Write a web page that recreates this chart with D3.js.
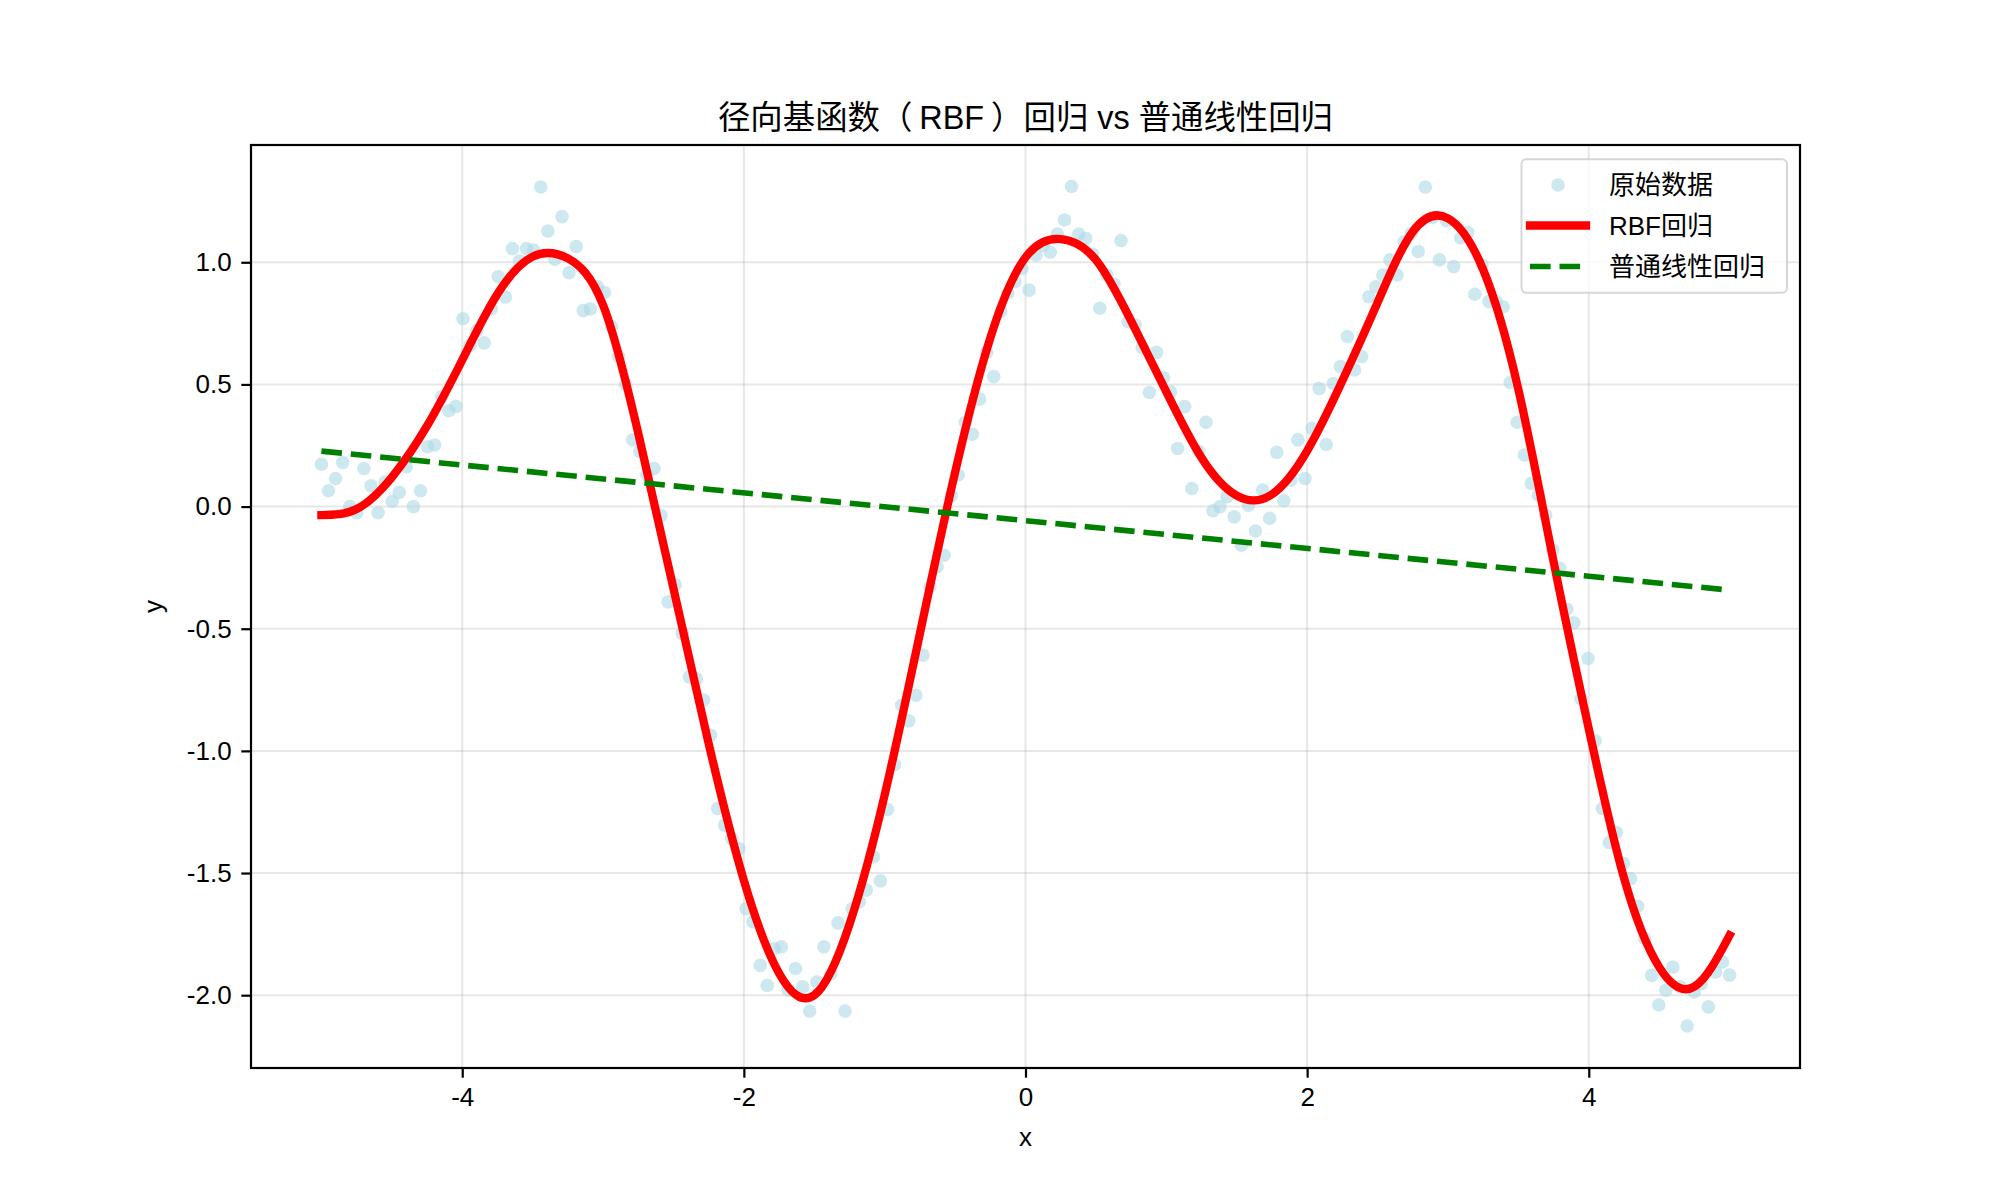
<!DOCTYPE html>
<html><head><meta charset="utf-8">
<script src="https://cdn.jsdelivr.net/npm/d3@7"></script>
<style>
html,body{margin:0;padding:0;background:#fff;}
svg{display:block;}
text{font-family:"Liberation Sans","Noto Sans CJK SC",sans-serif;fill:#000;}
</style>
</head><body><div id="chart"></div>
<script>
// ---------- data ----------
const titleParts = ["径向基函数", "（", "RBF", "）", "回归 vs 普通线性回归"];
const xLabelText = "x";
const yLabelText = "y";
const legendLabels = ["原始数据", "RBF回归", "普通线性回归"];
const xTicks = [-4, -2, 0, 2, 4];
const yTicks = [-2.0, -1.5, -1.0, -0.5, 0.0, 0.5, 1.0];

// sample grid of the raw data: 200 evenly spaced x from -5 to 5
const sampleCount = 200, sampleStart = -5, sampleEnd = 5;
const scatterY = [
 0.173, 0.065, 0.115, 0.181, 0.0, -0.025, 0.156, 0.085, -0.025, 0.10,
 0.022, 0.058, 0.163, 0.0, 0.065, 0.245, 0.252, 0.45, 0.392, 0.41,
 0.769, 0.66, 0.72, 0.67, 0.81, 0.941, 0.858, 1.056, 1.005, 1.056,
 1.05, 1.308, 1.128, 1.013, 1.187, 0.957, 1.064, 0.802, 0.809, 0.90,
 0.876, 0.737, 0.614, 0.50, 0.273, 0.225, 0.13, 0.156, -0.037, -0.39,
 -0.32, -0.519, -0.697, -0.706, -0.792, -0.936, -1.236, -1.304, -1.359, -1.40,
 -1.646, -1.70, -1.878, -1.96, -1.81, -1.802, -1.98, -1.891, -1.966, -2.065,
 -1.946, -1.802, -1.912, -1.704, -2.065, -1.646, -1.618, -1.57, -1.434, -1.532,
 -1.24, -1.056, -0.813, -0.877, -0.772, -0.608, -0.328, -0.246, -0.199, 0.044,
 0.129, 0.345, 0.296, 0.44, 0.63, 0.532, 0.798, 0.873, 0.921, 0.975,
 0.886, 1.03, 1.07, 1.041, 1.115, 1.173, 1.31, 1.115, 1.098, 1.033,
 0.812, 0.948, 0.91, 1.089, 0.757, 0.743, 0.65, 0.467, 0.631, 0.527,
 0.47, 0.238, 0.409, 0.074, 0.225, 0.345, -0.017, 0.0, 0.04, -0.042,
 -0.158, 0.006, -0.1, 0.068, -0.048, 0.222, 0.024, 0.108, 0.273, 0.115,
 0.32, 0.484, 0.254, 0.504, 0.573, 0.696, 0.559, 0.614, 0.859, 0.90,
 0.948, 1.01, 0.948, 1.084, 1.119, 1.044, 1.308, 1.183, 1.01, 1.17,
 0.982, 1.10, 1.123, 0.869, 0.99, 0.839, 0.84, 0.818, 0.508, 0.345,
 0.211, 0.095, 0.047, -0.035, -0.178, -0.253, -0.42, -0.476, -0.786, -0.622,
 -0.959, -1.236, -1.375, -1.334, -1.46, -1.523, -1.636, -1.768, -1.919, -2.04,
 -1.98, -1.885, -1.966, -2.126, -1.987, -1.953, -2.048, -1.905, -1.864, -1.918
];

const rbfX = [-5, -4.75, -4.5, -4.25, -4, -3.75, -3.5, -3.25, -3, -2.75, -2.5, -2.25, -2,
  -1.75, -1.5, -1.25, -1, -0.75, -0.5, -0.25, 0, 0.25, 0.5, 0.75, 1, 1.25, 1.5, 1.75,
  2, 2.25, 2.5, 2.75, 3, 3.25, 3.5, 3.75, 4, 4.25, 4.5, 4.75, 5];
const rbfY = [-0.035, -0.01, 0.12, 0.33, 0.6, 0.87, 1.023, 1.016, 0.825, 0.3, -0.335, -0.97, -1.53,
  -1.91, -2.0, -1.71, -1.18, -0.52, 0.14, 0.69, 1.02, 1.095, 1.01, 0.76, 0.47, 0.2, 0.045, 0.05,
  0.228, 0.515, 0.835, 1.125, 1.18, 0.97, 0.48, -0.225, -0.91, -1.52, -1.885, -1.965, -1.755];

const linearX = [-5, 5];
const linearY = [0.227, -0.342];

// ---------- layout ----------
const W = 1998, H = 1198;
const L = 251, R = 1800, T = 145, B = 1068;
const fs = 26;

const svg = d3.select("#chart").append("svg").attr("width", W).attr("height", H);
svg.append("rect").attr("width", W).attr("height", H).attr("fill", "#fff");

const x = d3.scaleLinear().domain([-5.5, 5.5]).range([L, R]);
const y = d3.scaleLinear().domain([-2.298, 1.480]).range([B, T]);

const scatterX = d3.range(sampleCount).map(i => sampleStart + i * (sampleEnd - sampleStart) / (sampleCount - 1));
const points = scatterX.map((v, i) => ({x: v, y: scatterY[i]}));
const rbf = rbfX.map((v, i) => ({x: v, y: rbfY[i]}));
const lin = linearX.map((v, i) => ({x: v, y: linearY[i]}));

// grid
const grid = svg.append("g").attr("stroke", "#b0b0b0").attr("stroke-opacity", 0.3).attr("stroke-width", 2);
grid.selectAll("line.v").data(xTicks).join("line")
  .attr("x1", d => x(d)).attr("x2", d => x(d)).attr("y1", T).attr("y2", B);
grid.selectAll("line.h").data(yTicks).join("line")
  .attr("y1", d => y(d)).attr("y2", d => y(d)).attr("x1", L).attr("x2", R);

// scatter
svg.append("g").selectAll("circle").data(points).join("circle")
  .attr("cx", d => x(d.x)).attr("cy", d => y(d.y)).attr("r", 6.8)
  .attr("fill", "#add8e6").attr("fill-opacity", 0.6);

// rbf line
svg.append("path").datum(rbf)
  .attr("d", d3.line().x(d => x(d.x)).y(d => y(d.y)).curve(d3.curveNatural))
  .attr("fill", "none").attr("stroke", "#ff0000").attr("stroke-width", 8.3)
  .attr("stroke-linejoin", "round").attr("stroke-linecap", "square");

// linear line
svg.append("path").datum(lin)
  .attr("d", d3.line().x(d => x(d.x)).y(d => y(d.y)))
  .attr("fill", "none").attr("stroke", "#008000").attr("stroke-width", 5.6)
  .attr("stroke-dasharray", "20.6 8.9");

// spines
svg.append("rect").attr("x", L).attr("y", T).attr("width", R - L).attr("height", B - T)
  .attr("fill", "none").attr("stroke", "#000").attr("stroke-width", 2.2);

// axes
const xAxis = d3.axisBottom(x).tickValues(xTicks).tickFormat(d => String(d)).tickSize(9.7).tickPadding(9.7);
const gx = svg.append("g").attr("transform", `translate(0,${B})`).call(xAxis);
const yAxis = d3.axisLeft(y).tickValues(yTicks).tickFormat(d => d.toFixed(1)).tickSize(9.7).tickPadding(9.7);
const gy = svg.append("g").attr("transform", `translate(${L},0)`).call(yAxis);
[gx, gy].forEach(g => {
  g.select(".domain").remove();
  g.selectAll(".tick line").attr("stroke", "#000").attr("stroke-width", 2.2);
  g.selectAll(".tick text").attr("font-size", fs).attr("font-family", "Liberation Sans, Noto Sans CJK SC, sans-serif").attr("fill", "#000");
});

// title (extra space inside the full-width parentheses, as in the original rendering)
const title = svg.append("text").attr("x", (L + R) / 2).attr("y", 128.5).attr("text-anchor", "middle")
  .attr("font-size", 32.4);
const titleDx = [0, 0, 7, 7, 0];
titleParts.forEach((p, i) => title.append("tspan").attr("dx", titleDx[i]).text(p));

svg.append("text").attr("x", (L + R) / 2).attr("y", 1146).attr("text-anchor", "middle")
  .attr("font-size", fs).text(xLabelText);
svg.append("text").attr("transform", `translate(162,${(T + B) / 2}) rotate(-90)`).attr("text-anchor", "middle")
  .attr("font-size", fs).text(yLabelText);

// legend
const lg = svg.append("g");
lg.append("rect").attr("x", 1521.5).attr("y", 159.3).attr("width", 265.5).attr("height", 133.4)
  .attr("rx", 5).attr("fill", "#fff").attr("fill-opacity", 0.8)
  .attr("stroke", "#cccccc").attr("stroke-opacity", 0.8).attr("stroke-width", 2);
const rowY = [185, 225.5, 266.5];
lg.append("circle").attr("cx", 1558).attr("cy", rowY[0]).attr("r", 6.8)
  .attr("fill", "#add8e6").attr("fill-opacity", 0.6);
lg.append("line").attr("x1", 1530).attr("x2", 1586).attr("y1", rowY[1]).attr("y2", rowY[1])
  .attr("stroke", "#ff0000").attr("stroke-width", 8.3).attr("stroke-linecap", "square");
lg.append("line").attr("x1", 1530).attr("x2", 1586).attr("y1", rowY[2]).attr("y2", rowY[2])
  .attr("stroke", "#008000").attr("stroke-width", 5.6).attr("stroke-dasharray", "20.6 8.9");
lg.selectAll("text.lt").data(legendLabels).join("text")
  .attr("x", 1609).attr("y", (d, i) => rowY[i] + 9).attr("font-size", fs).text(d => d);
</script>
</body></html>
